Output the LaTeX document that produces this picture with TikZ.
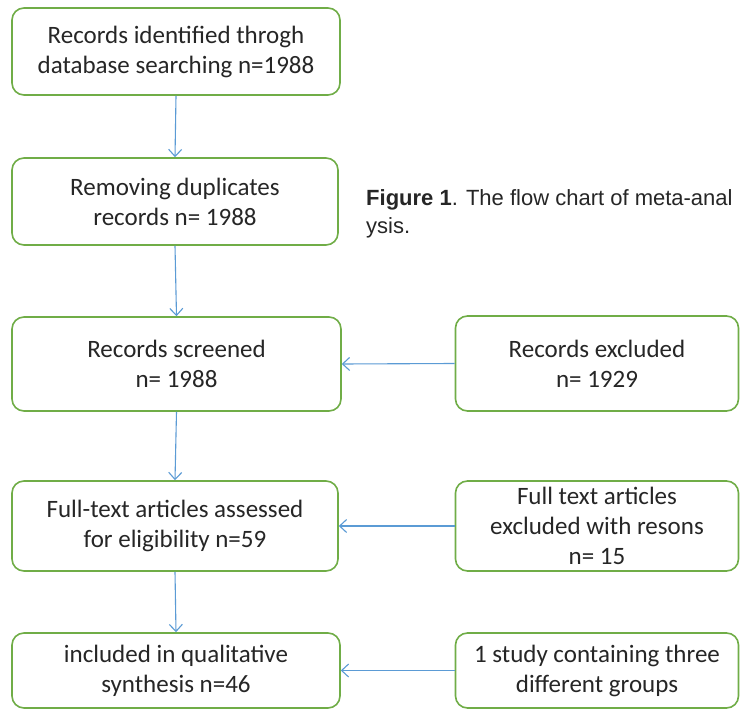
\documentclass[tikz,border=0pt]{standalone}
\usepackage{fontspec}
\setmainfont{Carlito}
\newfontfamily\capfont{Liberation Sans}
\usetikzlibrary{arrows.meta}
\definecolor{boxgreen}{HTML}{70AD47}
\definecolor{arrblue}{HTML}{5B9BD5}
\begin{document}
\begin{tikzpicture}[x=1pt,y=-1pt,
  flowbox/.style={draw=boxgreen,line width=1.6pt,rounded corners=12pt,align=center,
    font=\fontsize{25}{30}\selectfont,inner sep=0pt,text=black!85},
  arr/.style={draw=arrblue,line width=1.1pt,-{Straight Barb[length=7pt,width=13pt]}}]
\useasboundingbox (0,0) rectangle (741,711);
\clip (0,0) rectangle (741,711);
\fill[white] (0,0) rectangle (741,711);
\node[flowbox,minimum width=328pt,minimum height=87pt] (b1) at (176,51.5) {Records identified throgh\\database searching n=1988};
\node[flowbox,minimum width=326pt,minimum height=87pt] (b2) at (175,201.5) {Removing duplicates\\records n= 1988};
\node[flowbox,minimum width=329pt,minimum height=94pt] (b3) at (176.5,364) {Records screened\\n= 1988};
\node[flowbox,minimum width=326pt,minimum height=90pt] (b4) at (175,526) {Full-text articles assessed\\for eligibility n=59};
\node[flowbox,minimum width=328pt,minimum height=75pt] (b5) at (176,670.5) {included in qualitative\\synthesis n=46};
\node[flowbox,minimum width=283pt,minimum height=95pt] (r1) at (597,363.5) {Records excluded\\n= 1929};
\node[flowbox,minimum width=283pt,minimum height=90pt] (r2) at (597,526) {Full text articles\\excluded with resons\\n= 15};
\node[flowbox,minimum width=283pt,minimum height=75pt] (r3) at (597,670.5) {1 study containing three\\different groups};
\draw[arr] (b1.south) -- (b2.north);
\draw[arr] (b2.south) -- (b3.north);
\draw[arr] (b3.south) -- (b4.north);
\draw[arr] (b4.south) -- (b5.north);
\draw[arr] (r1.west) -- (b3.east);
\draw[arr] (r2.west) -- (b4.east);
\draw[arr] (r3.west) -- (b5.east);
\node[anchor=west,inner sep=0pt,font=\capfont\fontsize{22}{28}\selectfont,text=black!85,align=left] (cap) at (366,214) {\textbf{Figure 1}. The flow chart of meta-anal\\ysis.};
\end{tikzpicture}
\end{document}
